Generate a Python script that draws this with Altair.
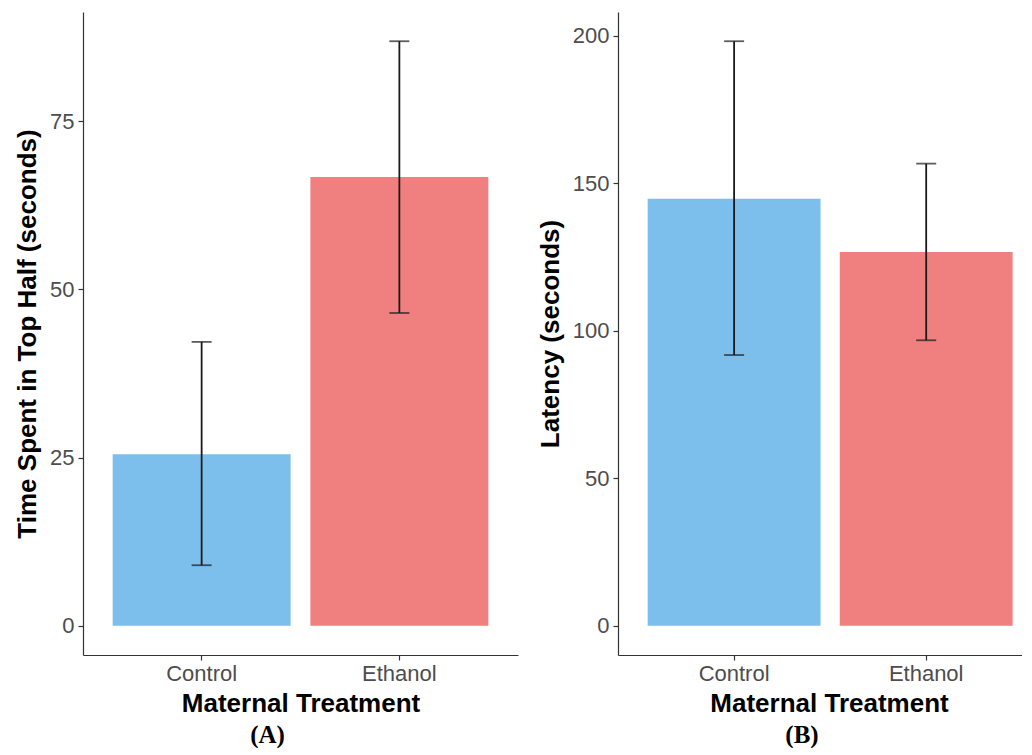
import altair as alt
import pandas as pd

groups = ["Control", "Ethanol"]
colors = ["#7DBFEC", "#F07F7F"]

time_mean = [25.5, 66.7]
time_lo = [9.0, 46.5]
time_hi = [42.2, 86.9]

lat_mean = [144.8, 126.7]
lat_lo = [91.8, 96.8]
lat_hi = [198.2, 156.7]

time_ticks = [0, 25, 50, 75]
lat_ticks = [0, 50, 100, 150, 200]

FONT = "Liberation Sans"


def panel(mean, lo, hi, ticks, ytitle, tag, width, height, tag_dx,
          pad_outer=0.15, align=0.5, title_x=None):
    df = pd.DataFrame({"group": groups, "mean": mean, "lo": lo, "hi": hi})
    top = max(hi)
    dom = [-0.05 * top, top * 1.05]
    axis_kw = dict(labelAngle=0, labelPadding=3, titlePadding=6)
    if title_x is not None:
        axis_kw["titleX"] = title_x
    xenc = alt.X(
        "group:N",
        title="Maternal Treatment",
        sort=groups,
        scale=alt.Scale(paddingInner=0.1, paddingOuter=pad_outer, align=align),
        axis=alt.Axis(**axis_kw),
    )
    yscale = alt.Scale(domain=dom, nice=False, zero=False)
    base = alt.Chart(df)
    bars = base.mark_bar().encode(
        x=xenc,
        y=alt.Y("mean:Q", title=ytitle, scale=yscale,
                axis=alt.Axis(values=ticks, labelPadding=4, titlePadding=9)),
        y2=alt.datum(0),
        color=alt.Color("group:N", scale=alt.Scale(domain=groups, range=colors), legend=None),
    )
    rule = base.mark_rule(color="#1a1a1a", strokeWidth=1.8).encode(
        x=alt.X("group:N", sort=groups), y="lo:Q", y2="hi:Q"
    )
    cap_lo = base.mark_tick(color="#1a1a1a", thickness=1.8, size=20).encode(
        x=alt.X("group:N", sort=groups), y="lo:Q"
    )
    cap_hi = base.mark_tick(color="#1a1a1a", thickness=1.8, size=20).encode(
        x=alt.X("group:N", sort=groups), y="hi:Q"
    )
    return alt.layer(bars, rule, cap_lo, cap_hi).properties(
        width=width,
        height=height,
        title=alt.TitleParams(
            tag, orient="bottom", font="Liberation Serif", fontSize=25,
            fontWeight="bold", color="black", offset=7, anchor="middle", dx=tag_dx,
        ),
    )


pa = panel(time_mean, time_lo, time_hi, time_ticks,
           "Time Spent in Top Half (seconds)", "(A)", 435, 643, -33)
pb = panel(lat_mean, lat_lo, lat_hi, lat_ticks,
           "Latency (seconds)", "(B)", 404, 643, -18,
           pad_outer=0.1016, align=0.76, title_x=211)

chart = (
    alt.hconcat(pa, pb, spacing=100, bounds="flush")
    .resolve_scale(y="independent", x="independent", color="independent")
    .properties(padding={"left": 6, "top": 4, "right": 0, "bottom": 0})
    .configure_view(stroke=None)
    .configure_axis(
        grid=False,
        domainColor="#333333",
        domainWidth=1.2,
        tickColor="#333333",
        tickWidth=1.2,
        tickSize=5,
        labelFont=FONT,
        labelFontSize=22,
        labelColor="#4D4D4D",
        titleFont=FONT,
        titleFontSize=26,
        titleFontWeight="bold",
        titleColor="black",
    )
)

chart.save("out.html", embed_options={"renderer": "svg", "actions": False})
